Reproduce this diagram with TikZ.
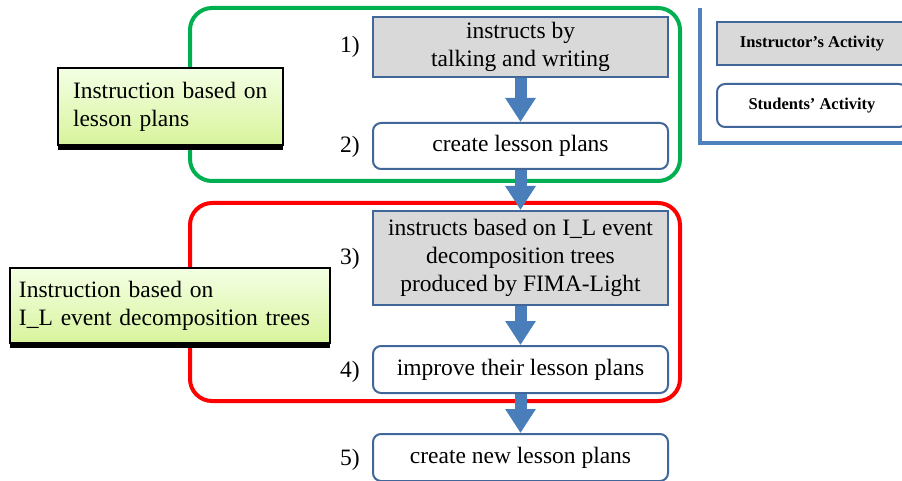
\documentclass[tikz,border=0pt]{standalone}
\usepackage{fontspec}
\setmainfont{Liberation Serif}
\usetikzlibrary{arrows.meta, shadows}
\definecolor{frameblue}{HTML}{41679A}
\definecolor{arrowblue}{HTML}{4A7EBB}
\definecolor{legendblue}{HTML}{4F81BD}
\definecolor{boxgray}{HTML}{D9D9D9}
\definecolor{officegreen}{HTML}{00B050}
\definecolor{limetop}{HTML}{F4FFE4}
\definecolor{limebottom}{HTML}{D8F49C}
\tikzset{
	txt/.style={font=\fontsize{23.5}{28}\selectfont},
	instructor/.style={txt, draw=frameblue, line width=2pt, fill=boxgray, minimum width=295pt, align=center, inner sep=0pt},
	students/.style={instructor, fill=white, rounded corners=8pt},
	phase/.style={txt, draw=black, line width=2pt, align=left, inner sep=0pt,
		top color=limetop, bottom color=limebottom,
		drop shadow={shadow xshift=0pt, shadow yshift=-5pt, fill=black, opacity=1}},
	flow/.style={arrowblue, line width=12pt, -{Triangle[width=29pt, length=24pt]}},
	legendbox/.style={draw=frameblue, line width=2pt, minimum width=190pt, minimum height=43pt, font=\fontsize{16.5}{18}\selectfont\bfseries}
}
\begin{document}
\begin{tikzpicture}[x=1pt, y=-1pt]
	\useasboundingbox (0,0) rectangle (902,481);
	% Frames:
	\draw[officegreen, line width=4pt, rounded corners=22pt] (190,8) rectangle (680,181);
	\draw[red, line width=4pt, rounded corners=22pt] (190,203) rectangle (680,401);
	% Activities:
	\node[instructor, minimum height=60pt] (talk) at (520.5,47) {instructs by\\talking and writing};
	\node[students, minimum height=46pt] (create) at (520.5,146) {create lesson plans};
	\node[instructor, minimum height=94pt] (trees) at (520.5,258) {instructs based on I\_L event\\decomposition trees\\produced by FIMA-Light};
	\node[students, minimum height=47pt] (improve) at (520.5,369.5) {improve their lesson plans};
	\node[students, minimum height=47pt] (newplans) at (520.5,457.5) {create new lesson plans};
	% Step numbers:
	\node[txt] (n1) at (350,47) {1)};
	\node[txt] (n2) at (350,147) {2)};
	\node[txt] (n3) at (350,259) {3)};
	\node[txt] (n4) at (350,372) {4)};
	\node[txt] (n5) at (350,460) {5)};
	% Phases:
	\node[phase, minimum width=225pt, minimum height=77pt, text width=195pt] (lesson) at (170.5,106.5) {Instruction based on\\lesson plans};
	\node[phase, minimum width=320pt, minimum height=75pt, text width=302pt] (decomp) at (170,305.5) {Instruction based on\\I\_L event decomposition trees};
	% Arrows:
	\draw[flow] (talk.south) -- (create.north);
	\draw[flow] (create.south) -- (trees.north);
	\draw[flow] (trees.south) -- (improve.north);
	\draw[flow] (improve.south) -- (newplans.north);
	% Legend:
	\coordinate (ltop) at (700,8);
	\coordinate (lcorner) at (700,143);
	\coordinate (lright) at (902,143);
	\draw[legendblue, line width=4pt] (ltop) -- (lcorner) -- (lright);
	\node[legendbox, fill=boxgray] (instr) at (812,43.5) {Instructor’s Activity};
	\node[legendbox, fill=white, rounded corners=8pt] (stud) at (812,105.5) {Students’ Activity};
\end{tikzpicture}
\end{document}
